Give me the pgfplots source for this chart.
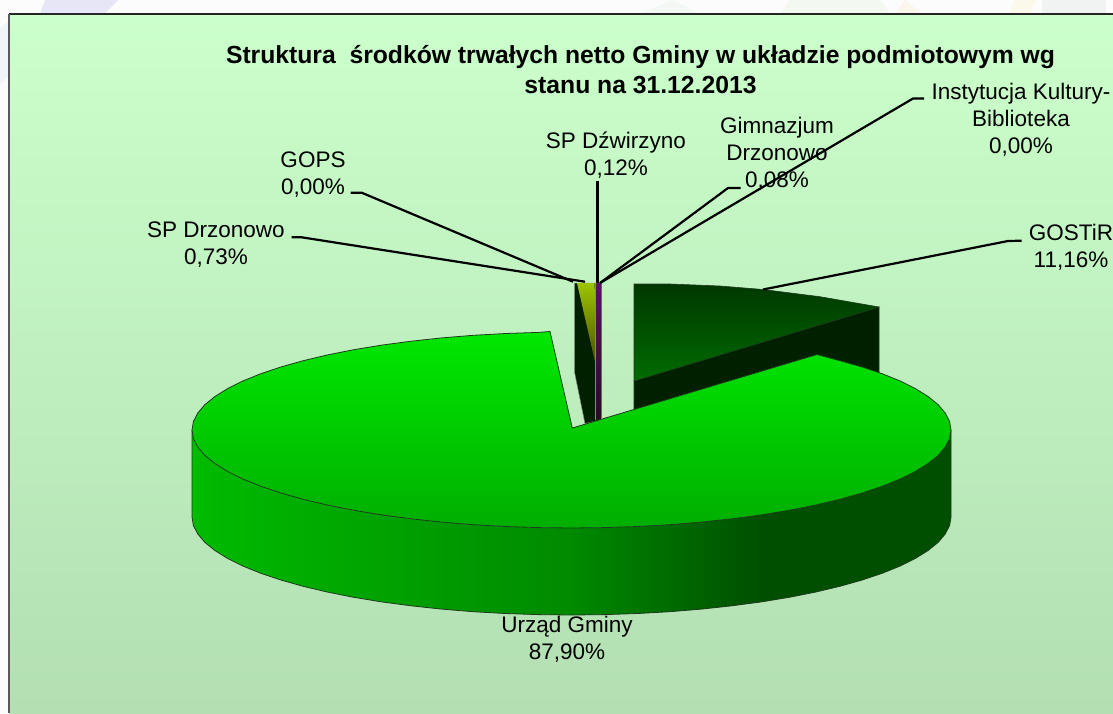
\documentclass[border=0pt]{standalone}
\usepackage{fontspec}
\setmainfont{Liberation Sans}
\usepackage{pgfplots}
\pgfplotsset{compat=1.18}
\definecolor{bgtop}{HTML}{CBFFCB}
\definecolor{bgbot}{HTML}{B3DFB3}
\definecolor{pageb}{HTML}{FBFCFB}
\definecolor{pietop}{HTML}{00E800}
\definecolor{piebot}{HTML}{00AE00}
\definecolor{sideL}{HTML}{00BB00}
\definecolor{sideM}{HTML}{008A00}
\definecolor{sideR}{HTML}{004F00}
\definecolor{gtop}{HTML}{003800}
\definecolor{gbot}{HTML}{006C00}
\definecolor{gside}{HTML}{002000}
\definecolor{olive}{HTML}{9CC400}
\definecolor{olived}{HTML}{403C00}
\definecolor{purpt}{HTML}{5A1066}
\definecolor{purpb}{HTML}{2A0A24}
\definecolor{edge}{HTML}{1E3A1E}
\definecolor{wmA}{HTML}{E6E6F6}
\definecolor{wmB}{HTML}{F1F5FA}
\definecolor{wmC}{HTML}{F4F8F4}
\definecolor{wmD}{HTML}{F3F8F0}
\definecolor{wmE}{HTML}{FBF6EC}
\definecolor{wmF}{HTML}{FBFAEA}
\definecolor{wmG}{HTML}{F1F3F3}
\tikzset{lab/.style={font=\fontsize{22.5}{27}\selectfont,align=center,inner sep=0pt,text=black},
lead/.style={black,line width=2.2pt,line join=round}}
\begin{document}
\begin{tikzpicture}
\path[use as bounding box,clip] (0,0) rectangle (1113pt,713pt);
\begin{axis}[scale only axis,width=1113pt,height=713pt,xmin=0,xmax=1113,ymin=0,ymax=713,y dir=reverse,hide axis,no markers,clip=true]
% page behind
\addplot[draw=none,fill=pageb] coordinates {(0,0)(1113,0)(1113,713)(0,713)} --cycle;
\addplot[draw=none,fill=wmA] coordinates {(45,0)(118,0)(104,14)(40,14)} --cycle;
\addplot[draw=none,fill=wmB] coordinates {(0,28)(9,20)(9,75)(0,85)} --cycle;
\addplot[draw=none,fill=wmC] coordinates {(640,14)(672,0)(700,14)} --cycle;
\addplot[draw=none,fill=wmD] coordinates {(780,14)(790,0)(880,0)(890,14)} --cycle;
\addplot[draw=none,fill=wmE] coordinates {(895,14)(905,0)(922,14)} --cycle;
\addplot[draw=none,fill=wmF] coordinates {(1008,14)(1015,0)(1036,0)(1030,14)} --cycle;
\addplot[draw=none,fill=wmG] coordinates {(1042,14)(1042,0)(1106,0)(1106,14)} --cycle;
% chart area
\addplot[draw=none,top color=bgtop,bottom color=bgbot] coordinates {(9,14)(1113,14)(1113,713)(9,713)} --cycle;
\addplot[black!85,line width=1.6pt] coordinates {(9,14)(1113,14)};
\addplot[black!65,line width=2pt] coordinates {(9,14)(9,713)};
% GOSTiR
\addplot[draw=edge,line width=.6pt,fill=gside] coordinates {(634,381)(879,307)(879,395)(634,470)} --cycle;
\addplot[draw=edge,line width=.6pt,top color=gtop,bottom color=gbot] coordinates {(634,284)(670,284)(720,286)(763,289.5)(820,296.7)(879,307)(634,381)} --cycle;
% SP Drzonowo
\addplot[draw=gray,line width=.5pt,fill=gside] coordinates {(574.5,283)(596,283)(600,420)(585,423.5)(574.5,372)} --cycle;
\addplot[draw=none,top color=olive,bottom color=olived] coordinates {(577,283)(594.5,283)(598.3,376)} --cycle;
% thin slices
\addplot[draw=none,fill=gray!70!green] coordinates {(595,283)(596.5,283)(596.5,420)(595,420)} --cycle;
\addplot[draw=none,top color=purpt,bottom color=purpb] coordinates {(596.5,283)(601,283)(601,420)(596.5,420)} --cycle;
\addplot[draw=none,fill=red!45!gray] coordinates {(601,283)(602.3,283)(602.3,418)(601,418)} --cycle;
% Urzad Gminy: side wall
\addplot[draw=none,left color=sideL,right color=sideM] coordinates {
(192,430)(193.4,438.5)(197.8,447)(204.9,455.4)(214.9,463.5)(227.6,471.4)(242.8,479)(260.6,486.2)(280.8,493)(303.2,499.3)(327.6,505.1)(353.8,510.3)(381.7,514.9)(411.1,518.8)(441.7,522.1)(473.3,524.7)(505.6,526.5)(538.4,527.6)(571.5,528)
(571.5,615)(538.4,614.6)(505.6,613.5)(473.3,611.7)(441.7,609.1)(411.1,605.8)(381.7,601.9)(353.8,597.3)(327.6,592.1)(303.2,586.3)(280.8,580)(260.6,573.2)(242.8,566)(227.6,558.4)(214.9,550.5)(204.9,542.4)(197.8,534)(193.4,525.5)(192,517)} --cycle;
\addplot[draw=none,left color=sideM,right color=sideR] coordinates {
(571,528)(604.6,527.6)(637.4,526.5)(669.7,524.7)(701.3,522.1)(731.9,518.8)(761.3,514.9)
(761.3,601.9)(731.9,605.8)(701.3,609.1)(669.7,611.7)(637.4,613.5)(604.6,614.6)(571,615)} --cycle;
\addplot[draw=none,fill=sideR] coordinates {
(761,514.9)(789.2,510.3)(815.4,505.1)(839.8,499.3)(862.2,493)(882.4,486.2)(900.2,479)(915.4,471.4)(928.1,463.5)(938.1,455.4)(945.2,447)(949.6,438.5)(951,430)
(951,517)(949.6,525.5)(945.2,534)(938.1,542.4)(928.1,550.5)(915.4,558.4)(900.2,566)(882.4,573.2)(862.2,580)(839.8,586.3)(815.4,592.1)(789.2,597.3)(761,601.9)} --cycle;
\addplot[edge,line width=.8pt] coordinates {
(192,430)(192,517)(193.4,525.5)(197.8,534)(204.9,542.4)(214.9,550.5)(227.6,558.4)(242.8,566)(260.6,573.2)(280.8,580)(303.2,586.3)(327.6,592.1)(353.8,597.3)(381.7,601.9)(411.1,605.8)(441.7,609.1)(473.3,611.7)(505.6,613.5)(538.4,614.6)(571.5,615)(604.6,614.6)(637.4,613.5)(669.7,611.7)(701.3,609.1)(731.9,605.8)(761.3,601.9)(789.2,597.3)(815.4,592.1)(839.8,586.3)(862.2,580)(882.4,573.2)(900.2,566)(915.4,558.4)(928.1,550.5)(938.1,542.4)(945.2,534)(949.6,525.5)(951,517)(951,430)};
% Urzad Gminy: top
\addplot[draw=edge,line width=.8pt,top color=pietop,bottom color=piebot] coordinates {
(572.3,428)(817,354.5)(839.8,360.7)(862.2,367)(882.4,373.8)(900.2,381)(915.4,388.6)(928.1,396.5)(938.1,404.6)(945.2,413)(949.6,421.5)(951,430)
(949.6,438.5)(945.2,447)(938.1,455.4)(928.1,463.5)(915.4,471.4)(900.2,479)(882.4,486.2)(862.2,493)(839.8,499.3)(815.4,505.1)(789.2,510.3)(761.3,514.9)(731.9,518.8)(701.3,522.1)(669.7,524.7)(637.4,526.5)(604.6,527.6)(571.5,528)(538.4,527.6)(505.6,526.5)(473.3,524.7)(441.7,522.1)(411.1,518.8)(381.7,514.9)(353.8,510.3)(327.6,505.1)(303.2,499.3)(280.8,493)(260.6,486.2)(242.8,479)(227.6,471.4)(214.9,463.5)(204.9,455.4)(197.8,447)(193.4,438.5)(192,430)
(193.4,421.5)(197.8,413)(204.9,404.6)(214.9,396.5)(227.6,388.6)(242.8,381)(260.6,373.8)(280.8,367)(303.2,360.7)(327.6,354.9)(353.8,349.7)(381.7,345.1)(411.1,341.2)(441.7,337.9)(473.3,335.3)(505.6,333.5)(538.4,332.4)(550,331.5)} --cycle;
% leaders
\addplot[lead] coordinates {(291.7,237.3)(301.7,237.3)(585,281.7)};
\addplot[lead] coordinates {(350.7,192.7)(361.7,192.7)(573,281.7)};
\addplot[lead] coordinates {(597.5,181)(597.5,283)};
\addplot[lead] coordinates {(740.7,188)(728,188)(600,283)};
\addplot[lead] coordinates {(924,98.5)(913,98.5)(600,283)};
\addplot[lead] coordinates {(1021.7,240.7)(1008,241)(763,289.5)};
% text
\node[font=\bfseries\fontsize{24.7}{30}\selectfont,align=center,inner sep=0pt,text=black] at (axis cs:640.5,70) {Struktura\ \ środków trwałych netto Gminy w układzie podmiotowym wg\\stanu na 31.12.2013};
\node[lab] at (axis cs:216,244.5) {SP Drzonowo\\0,73\%};
\node[lab] at (axis cs:313,175) {GOPS\\0,00\%};
\node[lab] at (axis cs:616,155.5) {SP Dźwirzyno\\0,12\%};
\node[lab] at (axis cs:777,154) {Gimnazjum\\Drzonowo\\0,08\%};
\node[lab] at (axis cs:1021,119.5) {Instytucja Kultury-\\Biblioteka\\0,00\%};
\node[lab] at (axis cs:1071,247) {GOSTiR\\11,16\%};
\node[lab] at (axis cs:567,639) {Urząd Gminy\\87,90\%};
\end{axis}
\end{tikzpicture}
\end{document}
